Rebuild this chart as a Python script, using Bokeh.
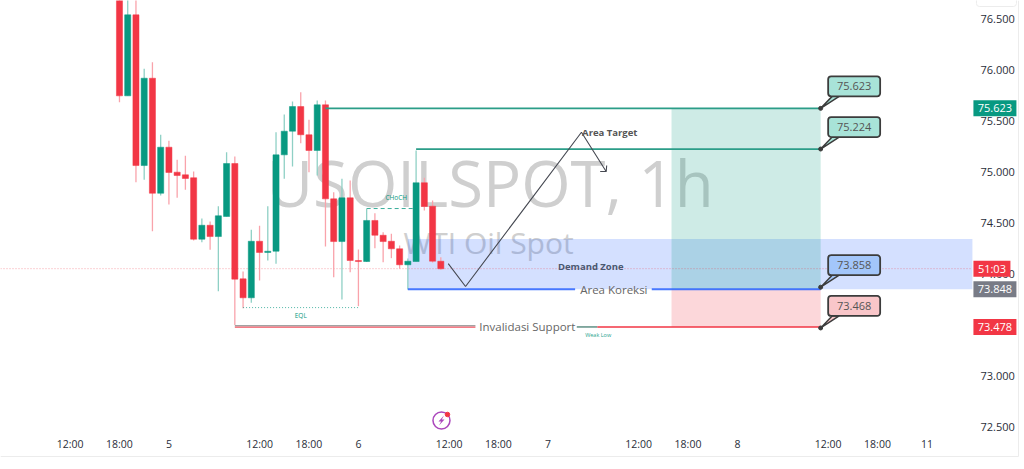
from bokeh.plotting import figure
from bokeh.models import ColumnDataSource, FixedTicker, Range1d, LinearAxis
from bokeh.core.properties import value
from bokeh.embed import file_html
from bokeh.resources import INLINE

FONT = "Open Sans"
GREEN, RED, BLUE = "#089981", "#f23645", "#2962ff"

# ---------- data ----------
bar_index = list(range(-6, 34))
opens = [76.900,75.746,76.541,75.062,75.919,74.790,75.242,74.997,74.971,74.942,
         74.339,74.476,74.365,74.562,75.082,73.950,73.764,74.319,74.209,74.221,
         75.167,75.399,75.641,75.364,75.210,75.658,74.735,74.316,74.745,74.130,
         74.120,74.523,74.378,74.319,74.245,74.088,74.120,74.893,74.663,74.123]
highs = [77.000,76.750,76.750,76.011,76.076,75.364,75.305,75.118,75.157,75.003,
         74.542,74.513,74.663,75.193,75.151,74.022,74.431,74.471,74.663,75.389,
         75.563,75.690,75.782,75.511,75.700,75.700,74.800,74.932,74.915,74.238,
         74.637,74.594,74.408,74.392,74.277,74.150,75.210,74.942,74.719,74.162]
lows = [75.683,75.746,74.898,74.922,74.418,74.768,74.680,74.745,74.824,74.326,
        74.310,74.235,73.829,74.562,73.497,73.662,73.715,73.934,74.130,74.098,
        74.932,75.053,75.281,74.997,74.964,74.267,73.966,73.747,74.015,73.682,
        74.115,74.251,74.113,74.153,74.049,73.845,74.120,74.621,74.110,74.039]
closes = [75.746,76.541,75.062,75.919,74.790,75.242,74.994,74.964,74.935,74.339,
          74.476,74.365,74.569,75.082,73.947,73.764,74.319,74.209,74.221,75.167,
          75.399,75.641,75.364,75.210,75.658,74.735,74.316,74.745,74.130,74.120,
          74.523,74.378,74.316,74.245,74.088,74.123,74.893,74.660,74.123,74.049]

time_ticks = [-12, -6, 0, 11, 17, 23, 34, 40, 46, 57, 63, 69, 80, 86, 92]
time_labels = ["12:00","18:00","5","12:00","18:00","6","12:00","18:00","7",
               "12:00","18:00","8","12:00","18:00","11"]
price_ticks = [72.5, 73.0, 73.5, 74.0, 74.5, 75.0, 75.5, 76.0, 76.5]

target_high, target_low = 75.623, 75.224
demand_top, demand_bottom = 74.34, 73.848
invalidation = 73.478
last_close = 74.05
callout_values = [75.623, 75.224, 73.858, 73.468]
path_x = [33.9, 36.0, 50.07, 53.07]
path_y = [74.10, 73.875, 75.389, 75.003]

# ---------- scales ----------
PX_PER_BAR = 8.24
PX_PER_PRICE = 101.9
dx = lambda px: px / PX_PER_BAR
dy = lambda px: px / PX_PER_PRICE
x_lo, x_hi, x_canvas = -20.44, 97.52, 103.84   # left edge, price scale edge, canvas edge
y_top, y_axis, y_canvas = 76.6816, 72.442, 72.079  # top, time scale edge, canvas bottom

p = figure(width=1024, height=469, output_backend="svg", toolbar_location=None,
           x_range=Range1d(x_lo, x_canvas), y_range=Range1d(y_canvas, y_top),
           min_border_left=0, min_border_top=0, min_border_right=0, min_border_bottom=0,
           outline_line_color=None, background_fill_color="white",
           x_axis_location=None, y_axis_location=None)
p.grid.visible = False

def style(ax, size, standoff):
    ax.axis_line_color = None
    ax.major_tick_line_color = None
    ax.minor_tick_line_color = None
    ax.major_label_standoff = standoff
    ax.major_label_text_font = FONT
    ax.major_label_text_font_size = size
    ax.major_label_text_color = "#2a2e39"

xax = LinearAxis(ticker=FixedTicker(ticks=time_ticks), fixed_location=y_axis + dy(1.5))
xax.major_label_overrides = dict(zip(time_ticks, time_labels))
style(xax, "10.5px", 0)
p.add_layout(xax, "below")

yax = LinearAxis(ticker=FixedTicker(ticks=price_ticks), fixed_location=x_hi)
yax.major_label_overrides = {t: f"{t:.3f}" for t in price_ticks}
style(yax, "11px", 2)
p.add_layout(yax, "right")

def txt(x, y, s, size, color, align="center", style="normal", level="glyph"):
    p.text([x], [y], text=[s], text_font=value(FONT), text_font_size=value(size),
           text_color=color, text_align=align, text_baseline="middle",
           text_font_style=style, level=level)

# panel borders
p.line([x_lo, x_canvas - dx(6)], [y_axis - dy(24)]*2, line_color="#ececec", line_width=1)
p.line([x_canvas - dx(6)]*2, [y_top, y_axis - dy(24)], line_color="#ececec", line_width=1)
p.quad(left=[x_hi + dx(4)], right=[x_hi + dx(44)], top=[y_top + dy(10)], bottom=[y_top - dy(6)],
       fill_color="white", line_color="#ececec", border_radius=3)

# watermark
txt(39.0, 74.90, "USOILSPOT, 1h", "63.5px", "#cfcfcf")
txt(38.8, 74.31, "WTI Oil Spot", "30px", "#cfcfcf")

# zones
end_bar = 79.1
p.quad(left=[29], right=[x_hi], top=[demand_top], bottom=[demand_bottom],
       fill_color=BLUE, fill_alpha=0.2, line_color=None)
p.quad(left=[61], right=[end_bar], top=[target_high], bottom=[demand_bottom],
       fill_color=GREEN, fill_alpha=0.2, line_color=None)
p.quad(left=[61], right=[end_bar], top=[demand_bottom], bottom=[invalidation],
       fill_color=RED, fill_alpha=0.2, line_color=None)

# last price line
p.line([x_lo, x_hi], [last_close, last_close], line_color=RED, line_alpha=0.45,
       line_width=1, line_dash="1 2")

# candles
colors = [GREEN if c >= o else RED for o, c in zip(opens, closes)]
wicks = ["#8fd0c5" if c >= o else "#f9a3ab" for o, c in zip(opens, closes)]
src = ColumnDataSource(dict(x=bar_index, o=opens, h=highs, l=lows, c=closes,
                            color=colors, wick=wicks))
p.segment("x", "h", "x", "l", source=src, line_color="wick", line_width=1.3)
p.vbar("x", 0.74, "o", "c", source=src, fill_color="color", line_color="color", line_width=0.5)

# structure lines
p.line([19, end_bar], [target_high]*2, line_color="#2b9d88", line_width=1.7)
p.line([30, end_bar], [target_low]*2, line_color="#2b9d88", line_width=1.7)
p.line([29, 49.3], [demand_bottom]*2, line_color=BLUE, line_width=2, line_alpha=0.85)
p.line([58.6, end_bar], [demand_bottom]*2, line_color=BLUE, line_width=2, line_alpha=0.85)
p.line([8, 37.2], [invalidation+0.011]*2, line_color="#555555", line_width=0.8)
p.line([8, 37.2], [invalidation-0.002]*2, line_color=RED, line_width=1)
p.line([49.5, 52], [invalidation]*2, line_color="#5f8f84", line_width=1.5)
p.line([52, end_bar], [invalidation]*2, line_color=RED, line_width=1.5)
p.line([9, 23], [73.668, 73.668], line_color=GREEN, line_width=1, line_dash="1 2", line_alpha=0.7)
p.line([24, 30], [74.64]*2, line_color=GREEN, line_width=1, line_dash="4 3", line_alpha=0.8)

# path arrow
p.line(path_x, path_y, line_color="#454851", line_width=1.1)
p.line([path_x[3]-dx(6), path_x[3], path_x[3]+dx(0.5)],
       [path_y[3], path_y[3], path_y[3]+dy(6)], line_color="#454851", line_width=1.1)

# texts on the chart
txt(50.15, 75.39, "Area Target", "9.5px", "#555555", "left", "bold")
txt(51.2, 74.07, "Demand Zone", "9.5px", "#4a5870", "center", "bold")
txt(54.0, demand_bottom, "Area Koreksi", "11.5px", "#666666")
txt(43.5, invalidation, "Invalidasi Support", "11.5px", "#666666")
txt(52.1, 73.40, "Weak Low", "5.5px", "#2aa58f")
txt(16, 73.59, "EQL", "6.5px", GREEN)
txt(27.6, 74.75, "CHoCH", "6.5px", GREEN)

# callouts
fills = ["#a8e3d8", "#a8e3d8", "#a3c6fa", "#f9c6c9"]
tips = [target_high, target_low, 73.868, 73.468]
for v, tip, f in zip(callout_values, tips, fills):
    bottom = tip + dy(12)
    top = bottom + dy(20)
    left = end_bar + dx(7.5)
    right = end_bar + dx(59.5)
    p.patch([end_bar, left + dx(4), left + dx(11)], [tip, bottom, bottom],
            fill_color=f, line_color="#3c3c3c", line_width=1.5)
    p.quad(left=[left], right=[right], top=[top], bottom=[bottom], fill_color=f,
           line_color="#3c3c3c", line_width=1.8, border_radius=3)
    p.scatter([end_bar], [tip], size=4, color="#3c3c3c")
    txt((left + right) / 2, (top + bottom) / 2, f"{v:.3f}", "11px", "#555555")

# event icon
ix, iy = 33.08, 72.56
p.scatter([ix], [iy], size=17, fill_color=None, line_color="#ab47bc", line_width=1.5)
p.patch([ix+dx(2.5), ix-dx(3), ix-dx(0.3), ix-dx(2.5), ix+dx(3), ix+dx(0.3)],
        [iy+dy(5), iy-dy(1), iy-dy(1), iy-dy(5), iy+dy(1), iy+dy(1)],
        fill_color="#ab47bc", line_color=None)
p.scatter([ix+dx(6)], [iy+dy(6)], size=4.5, color=RED)

# price badges drawn over the price scale
badges = [(75.623, "75.623", GREEN, 44), (last_close, "51:03", RED, 38),
          (73.848, "73.848", "#787b86", 44), (invalidation, "73.478", RED, 44)]
for y, s, c, w in badges:
    p.quad(left=[x_hi + dx(1)], right=[x_hi + dx(1 + w - 1)], top=[y + dy(8)], bottom=[y - dy(8)],
           fill_color=c, line_color=None, level="overlay")
    txt(x_hi + dx(1 + (w - 1) / 2), y, s, "11px", "white", level="overlay")

open("out.html", "w").write(file_html(p, INLINE))
